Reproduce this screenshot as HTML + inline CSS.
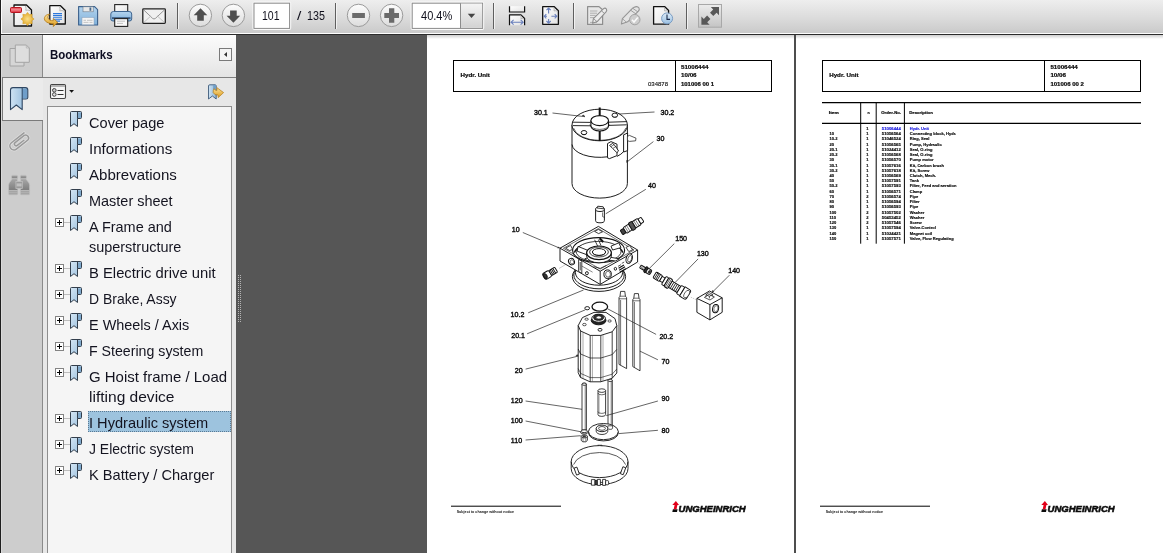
<!DOCTYPE html>
<html><head><meta charset="utf-8">
<style>
*{box-sizing:border-box;margin:0;padding:0}
html,body{width:1163px;height:553px;overflow:hidden;background:#565656;font-family:"Liberation Sans",sans-serif;}
#root{position:absolute;left:0;top:0;width:1163px;height:553px;overflow:hidden;background:#565656}
.abs{position:absolute}
#toolbar{left:0;top:0;width:1163px;height:34px;background:linear-gradient(#eeeeee,#dcdcdc 52%,#cacaca 97%,#fdfdfd 97%);border-left:2px solid #fbfbfb}
#tbline{left:0;top:34px;width:1163px;height:1px;background:#2c2c2c}
#leftedge{left:0;top:0;width:1px;height:553px;background:#1e1e1e}
#tabs{left:1px;top:35px;width:41px;height:518px;background:#cdcdcd;border-left:1px solid #dadada;border-top:1px solid #d8d8d8}
#panel{left:42px;top:35px;width:194px;height:518px;background:#e7e7e7}
#phead{left:42px;top:35px;width:194px;height:42px;background:linear-gradient(#fcfcfc,#e4e4e4)}
#list{left:47px;top:106px;width:185px;height:450px;background:#f5f5f5;border:1px solid #8e8e8e}
.bm{position:absolute;left:89px;font-size:15px;color:#141420;white-space:nowrap;line-height:20px;transform-origin:0 0}
.bmi{position:absolute}
.plus{position:absolute;left:55px;width:9px;height:9px;border:1px solid #848484;background:#fff}
.plus:before{content:"";position:absolute;left:1px;top:3px;width:5px;height:1px;background:#000}
.plus:after{content:"";position:absolute;left:3px;top:1px;width:1px;height:5px;background:#000}
.sep{position:absolute;top:3px;width:1px;height:25px;background:#6e6e6e}
.tbt{font-size:12px;line-height:15px;color:#10101c;white-space:nowrap;transform-origin:0 0}
#bmtitle{font-size:13px;font-weight:700;line-height:16px;color:#0e0e22;white-space:nowrap;transform-origin:0 0;transform:scaleX(.885)}
.page{position:absolute;background:#fff}
</style></head><body><div id="root">
<svg width="0" height="0" style="position:absolute"><defs>
<linearGradient id="bg1" x1="0" y1="0" x2="1" y2="1"><stop offset="0" stop-color="#d4e6f4"/><stop offset="1" stop-color="#9abfde"/></linearGradient>
<g id="bmk"><path d="M0.5 2.5 Q0.5 1.5 1.5 1.5 H10.5 Q11.5 1.5 11.5 2.5 V7.5 Q11.5 8.5 10.5 8.5 H7.5 V16.5 L4 13.7 L0.5 16.5 Z" fill="url(#bg1)" stroke="#323e4c" stroke-width="1" stroke-linejoin="round"/><path d="M8 2.5 H11 V8 H8 Z" fill="#7fa9cc"/><path d="M7.5 2 V8.5" stroke="#323e4c" stroke-width="1" fill="none"/></g>
</defs></svg>
<div id="toolbar" class="abs"></div>
<div id="tbline" class="abs"></div>
<svg class="abs" style="left:0;top:0" width="1163" height="34" viewBox="0 0 1163 34">
<defs>
<linearGradient id="gbtn" x1="0" y1="0" x2="0" y2="1"><stop offset="0" stop-color="#fdfdfd"/><stop offset="1" stop-color="#dcdcdc"/></linearGradient>
<linearGradient id="gpage" x1="0" y1="0" x2="1" y2="1"><stop offset="0" stop-color="#ffffff"/><stop offset="1" stop-color="#e2e2e2"/></linearGradient>
<linearGradient id="gred" x1="0" y1="0" x2="0" y2="1"><stop offset="0" stop-color="#e8404c"/><stop offset=".45" stop-color="#f28890"/><stop offset="1" stop-color="#dc2433"/></linearGradient>
<radialGradient id="gsun"><stop offset="0" stop-color="#fbe08a"/><stop offset="1" stop-color="#e2a92a"/></radialGradient>
<linearGradient id="gyel" x1="0" y1="0" x2="0" y2="1"><stop offset="0" stop-color="#fbe39a"/><stop offset="1" stop-color="#dc9a1c"/></linearGradient>
<linearGradient id="gblue" x1="0" y1="0" x2="0" y2="1"><stop offset="0" stop-color="#b4d4ee"/><stop offset="1" stop-color="#7fb0da"/></linearGradient>
<linearGradient id="gdd" x1="0" y1="0" x2="0" y2="1"><stop offset="0" stop-color="#f4f4f4"/><stop offset="1" stop-color="#d2d2d2"/></linearGradient>
<linearGradient id="gfs" x1="0" y1="0" x2="0" y2="1"><stop offset="0" stop-color="#ececec"/><stop offset="1" stop-color="#c4c4c4"/></linearGradient>
<linearGradient id="gclk" x1="0" y1="0" x2="0" y2="1"><stop offset="0" stop-color="#dcebf7"/><stop offset="1" stop-color="#9bc0e2"/></linearGradient>
</defs>
<!-- create pdf -->
<g>
<path d="M14 5 H26.5 L31.5 10 V26 H14 Z" fill="url(#gpage)" stroke="#111" stroke-width="1.3" stroke-linejoin="round"/>
<path d="M25.5 6 Q26.5 8.5 25.8 10.3 Q28 9.6 30.5 10.8" fill="none" stroke="#b8b8b8" stroke-width="1"/>
<rect x="10.5" y="7.5" width="11" height="5" rx="1" fill="url(#gred)" stroke="#b8141f" stroke-width="1"/>
<path id="sun" d="M27.50 12.40 L29.30 14.66 L32.17 14.33 L31.84 17.20 L34.10 19.00 L31.84 20.80 L32.17 23.67 L29.30 23.34 L27.50 25.60 L25.70 23.34 L22.83 23.67 L23.16 20.80 L20.90 19.00 L23.16 17.20 L22.83 14.33 L25.70 14.66 Z" fill="url(#gsun)" stroke="#d9a128" stroke-width="0.6"/>
</g>
<!-- convert -->
<g>
<path d="M49.8 5.7 H60.5 L65.3 10.5 V24 H49.8 Z" fill="url(#gpage)" stroke="#111" stroke-width="1.3" stroke-linejoin="round"/>
<path d="M59.5 6.5 Q60.5 9 59.8 10.9 Q62 10.2 64.5 11.3" fill="none" stroke="#b8b8b8" stroke-width="1"/>
<path d="M53 13.5 H62 M53 15.4 H62 M53 17.3 H62 M53 19.2 H62 M56 21.1 H60" stroke="#2d78dc" stroke-width="1.1" fill="none"/>
<path d="M49.5 14.2 C44 14.5 42.5 20 47 22.3 C49.5 23.7 52 23.8 53.5 23.7 L53.3 26.6 L57.6 22.2 L53.2 18.5 L53.3 20.7 C51 20.8 48.6 20 48 18 C47.6 16.4 48.4 15.2 49.5 14.2 Z" fill="url(#gyel)" stroke="#b57a14" stroke-width="0.8" stroke-linejoin="round"/>
</g>
<!-- save -->
<g>
<path d="M78.6 6.6 H94.6 L97.6 9.6 V25 H78.6 Z" fill="url(#gblue)" stroke="#3c618c" stroke-width="1.1" stroke-linejoin="round"/>
<rect x="83" y="6.8" width="10.2" height="5" fill="#e8e8e8" stroke="#6a7a8a" stroke-width="0.6"/>
<rect x="89.5" y="7.5" width="1.8" height="3.3" fill="#4a6a8a"/>
<rect x="82" y="17.5" width="12" height="7.3" fill="#f4f4f4" stroke="#8aa0b8" stroke-width="0.5"/>
<path d="M83.5 20.3 H86 M87 20.3 H92.5 M83.5 22.4 H88.5 M89.5 22.4 H92.5" stroke="#c0c0c0" stroke-width="0.9"/>
</g>
<!-- print -->
<g>
<rect x="114.7" y="4.6" width="13" height="9.5" fill="url(#gpage)" stroke="#222" stroke-width="1.1"/>
<path d="M110.8 14 Q110.8 11.5 113.5 11.5 H129 Q131.7 11.5 131.7 14 V19 Q131.7 21 129.5 21 H113 Q110.8 21 110.8 19 Z" fill="url(#gblue)" stroke="#3f6691" stroke-width="1"/>
<path d="M112 17.2 H130.5 V19 H112 Z" fill="#3a5a80"/>
<rect x="114.7" y="18.6" width="13" height="7.8" fill="#f8f8f8" stroke="#222" stroke-width="1.1"/>
<path d="M117 21.2 H125 M117 23.4 H123" stroke="#bbb" stroke-width="0.9"/>
</g>
<!-- mail -->
<g>
<rect x="142.8" y="8.8" width="22.5" height="14.6" rx="0.8" fill="#f0f0f0" stroke="#222" stroke-width="1.3"/>
<path d="M144 10.2 L152.6 18.4 Q154 19.6 155.4 18.4 L164.2 10.2" fill="none" stroke="#8a8a8a" stroke-width="0.9"/>
<path d="M144 22.3 L151 15.8 M164.2 22.3 L157.2 15.8" stroke="#b5b5b5" stroke-width="0.8"/>
</g>
<!-- separators -->
<g stroke="#5f5f5f" stroke-width="1">
<path d="M177.5 3 V29 M335.5 3 V29 M493.5 3 V29 M573.5 3 V29 M686.5 3 V29"/>
</g>
<g stroke="#f8f8f8" stroke-width="1" opacity=".8">
<path d="M178.5 3 V29 M336.5 3 V29 M494.5 3 V29 M574.5 3 V29 M687.5 3 V29"/>
</g>
<!-- nav circles -->
<g fill="url(#gbtn)" stroke="#9a9a9a" stroke-width="1">
<circle cx="200.4" cy="15.4" r="11.2"/><circle cx="233.4" cy="15.4" r="11.2"/><circle cx="358.5" cy="15.4" r="11.2"/><circle cx="391.6" cy="15.4" r="11.2"/>
</g>
<g fill="#4e4e4e">
<path d="M200.5 8.2 L207.3 15.2 H203.8 V20.7 H197.2 V15.2 H193.7 Z"/>
<path d="M233.4 22.8 L240.2 15.8 H236.7 V10.6 H230.1 V15.8 H226.6 Z"/>
</g>
<g fill="#6a6a6a">
<rect x="352.2" y="13" width="12.7" height="5"/>
<path d="M384.3 13 H389 V8.3 H394.3 V13 H399 V18 H394.3 V22.7 H389 V18 H384.3 Z"/>
</g>
<!-- page box -->
<rect x="253" y="2.2" width="37.6" height="27.2" rx="1.5" fill="none" stroke="#fafafa" stroke-width="1.2"/>
<rect x="254" y="3.2" width="35.6" height="25.2" fill="#fff" stroke="#8c8c8c" stroke-width="1"/>
<!-- zoom box -->
<rect x="411.2" y="2.2" width="72.4" height="27.2" rx="1.5" fill="none" stroke="#fafafa" stroke-width="1.2"/>
<rect x="412.2" y="3.2" width="70.4" height="25.2" fill="#fff" stroke="#8c8c8c" stroke-width="1"/>
<rect x="460.5" y="3.7" width="21.6" height="24.2" fill="url(#gdd)"/>
<path d="M460.5 3.2 V28.4" stroke="#8c8c8c" stroke-width="1"/>
<path d="M467.8 13.8 H475.2 L471.5 18 Z" fill="#444"/>
<!-- fit width -->
<g>
<path d="M509.5 6.2 V12 H524.6 V6.2" fill="url(#gpage)" stroke="#111" stroke-width="1.2"/>
<path d="M509.5 25.2 V14.9 H521 L524.6 18.5 V25.2" fill="url(#gpage)" stroke="#111" stroke-width="1.2" stroke-linejoin="round"/>
<path d="M520.6 15.3 Q521.4 17.3 520.9 18.6 Q522.6 18.2 524.2 19" fill="none" stroke="#aaa" stroke-width="0.8"/>
<path d="M511 22.2 H523.2 M513.6 19.8 L511 22.2 L513.6 24.6 M520.6 19.8 L523.2 22.2 L520.6 24.6" fill="none" stroke="#6a80bc" stroke-width="1.1"/>
</g>
<!-- fit page -->
<g>
<path d="M542.7 6.7 H554.3 L558.4 10.8 V24.3 H542.7 Z" fill="url(#gpage)" stroke="#111" stroke-width="1.3" stroke-linejoin="round"/>
<path d="M553.7 7.2 Q554.6 9.4 554 10.9 Q555.9 10.4 557.8 11.3" fill="none" stroke="#aaa" stroke-width="0.8"/>
<path d="M548.6 8 V13.6 M548.6 19 V23.2 M544.2 16.3 H547 M551.4 16.3 H556.8 M546.5 10.2 L548.6 8 L550.7 10.2 M546.5 21 L548.6 23.2 L550.7 21 M546.3 14.2 L544.2 16.3 L546.3 18.4 M554.7 14.2 L556.8 16.3 L554.7 18.4" fill="none" stroke="#6a80bc" stroke-width="1.1"/>
</g>
<!-- edit (disabled) -->
<g>
<path d="M587.6 6.6 H599 L602.6 9.8 V24.4 H587.6 Z" fill="#e7e7e7" stroke="#8e8e8e" stroke-width="1.2" stroke-linejoin="round"/>
<path d="M590 11 H597.4 M590 13.2 H597 M590 15.4 H595.6 M590 17.6 H594 M590 22.4 H597" stroke="#a8a8a8" stroke-width="0.9"/>
<path d="M603.6 8.6 Q605.2 7.6 606.4 9 Q607.2 10.4 606.2 11.6 L597.2 21.6 L592.6 23.2 L593.4 18.6 Z" fill="#ececec" stroke="#8e8e8e" stroke-width="1.1" stroke-linejoin="round"/>
<path d="M601.4 10.8 L604.4 13.4 M593.6 18.8 L597 21.6" stroke="#8e8e8e" stroke-width="0.9" fill="none"/>
</g>
<!-- sign (disabled) -->
<g>
<path d="M634.2 7.2 Q637.4 5.6 639 8 Q639.8 9.8 638.4 11.2 L627.6 21.8 L621.4 24 L622.4 18.6 L632.4 8.4 Z" fill="#e4e4e4" stroke="#959595" stroke-width="1.1" stroke-linejoin="round"/>
<path d="M630.6 10.2 L636 14 M632.6 8.2 L638 12" stroke="#959595" stroke-width="0.9" fill="none"/>
<path d="M622.8 19 L626.6 22.4" stroke="#959595" stroke-width="0.8" fill="none"/>
<circle cx="634.8" cy="19.6" r="5.2" fill="#cdcdcd" stroke="#a2a2a2" stroke-width="1"/>
<path d="M632 19.8 L634 22 L637.8 17.4" fill="none" stroke="#fafafa" stroke-width="1.5"/>
</g>
<!-- page clock -->
<g>
<path d="M653.6 6.7 H664.8 L668.6 10.5 V24.2 H653.6 Z" fill="url(#gpage)" stroke="#111" stroke-width="1.3" stroke-linejoin="round"/>
<path d="M664.2 7.2 Q665.1 9.4 664.5 10.9 Q666.4 10.4 668 11.3" fill="none" stroke="#aaa" stroke-width="0.8"/>
<circle cx="667.1" cy="18.4" r="5.5" fill="url(#gclk)" stroke="#7a9cc2" stroke-width="1"/>
<path d="M667 14.6 V19.4 H670" fill="none" stroke="#1c2c4c" stroke-width="1.1"/>
</g>
<!-- fullscreen -->
<rect x="698.5" y="4.5" width="23" height="22.7" fill="url(#gfs)" stroke="#a8a8a8" stroke-width="1"/>
<g fill="#585858">
<path d="M710.8 7 H719 V15.2 L716.6 12.8 L713.3 16.1 L710 12.8 L713.2 9.5 Z"/>
<path d="M709.6 24.7 H701.4 V16.5 L703.8 18.9 L707.1 15.6 L710.4 18.9 L707.2 22.2 Z"/>
</g>
</svg>
<div class="abs tbt" style="left:262.2px;top:9px;transform:scaleX(.875)">101</div>
<div class="abs tbt" style="left:297px;top:9px;transform:scaleX(1.3)">/</div>
<div class="abs tbt" style="left:307.2px;top:9px;transform:scaleX(.895)">135</div>
<div class="abs tbt" style="left:421px;top:9px;transform:scaleX(.92)">40.4%</div>
<div id="tabs" class="abs"></div>
<div id="panel" class="abs"></div>
<div id="phead" class="abs"></div>
<div class="abs" style="left:42px;top:77px;width:194px;height:1px;background:#7f7f7f"></div>
<div class="abs" style="left:42px;top:35px;width:1px;height:42px;background:#8a8a8a"></div>
<div class="abs" style="left:42px;top:120px;width:1px;height:433px;background:#8a8a8a"></div>
<!-- active tab -->
<div class="abs" style="left:2px;top:77px;width:41px;height:44px;background:#ebebeb;border:1px solid #7a7a7a;border-right:none"></div>
<div id="list" class="abs"></div>
<div id="leftedge" class="abs"></div>
<div class="abs" style="left:238px;top:275px;width:4px;height:48px;background-image:linear-gradient(#b4b4b4 50%,transparent 50%),linear-gradient(90deg,transparent 0,transparent 100%);background-size:2px 2px;-webkit-mask-image:linear-gradient(90deg,#000 25%,transparent 25%,transparent 50%,#000 50%,#000 75%,transparent 75%);mask-image:linear-gradient(90deg,#000 25%,transparent 25%,transparent 50%,#000 50%,#000 75%,transparent 75%)"></div>
<div class="abs" id="bmtitle" style="left:49.5px;top:47px">Bookmarks</div>
<svg class="abs" style="left:0;top:34px" width="240" height="519" viewBox="0 34 240 519">
<defs>
<linearGradient id="gbm2" x1="0" y1="0" x2="1" y2="0"><stop offset="0" stop-color="#cfe3f3"/><stop offset="1" stop-color="#8db6d9"/></linearGradient>
<linearGradient id="gbin" x1="0" y1="0" x2="0" y2="1"><stop offset="0" stop-color="#a8a8a8"/><stop offset="1" stop-color="#7c7c7c"/></linearGradient>
</defs>
<!-- pages icon -->
<path d="M10 48.5 H24 V66 H10 Z" fill="#d6d6d6" stroke="#a4a4a4" stroke-width="1"/>
<path d="M15.3 45 H26.3 L29.3 48 V62.3 H15.3 Z" fill="#dedede" stroke="#a4a4a4" stroke-width="1" stroke-linejoin="round"/>
<path d="M26.3 45 V48 H29.3" fill="none" stroke="#b4b4b4" stroke-width="0.8"/>
<!-- big bookmark -->
<path d="M10.5 90 Q10.5 87.6 13 87.6 H25.5 Q27.8 87.6 27.8 90 V97.5 Q27.8 99 26 99 H22.2 V109.6 L16.3 105 L10.5 109.6 Z" fill="url(#gbm2)" stroke="#2f4763" stroke-width="1.1" stroke-linejoin="round"/>
<path d="M22.2 89 H27 V98.3 H22.2 Z" fill="#6f9ec9"/>
<path d="M22.2 88 V99" stroke="#2f4763" stroke-width="1"/>
<!-- paperclip -->
<g transform="translate(19.4 141.6) rotate(-38) translate(-11 0)" fill="none" stroke-linecap="round">
<path d="M20 -4 H4 A4 4 0 0 0 4 4 H18.6 A3 3 0 0 0 18.6 -1.9 H7 A1.8 1.8 0 0 0 7 1.7 H15.4" stroke="#dedede" stroke-width="3"/>
<path d="M20 -4 H4 A4 4 0 0 0 4 4 H18.6 A3 3 0 0 0 18.6 -1.9 H7 A1.8 1.8 0 0 0 7 1.7 H15.4" stroke="#9a9a9a" stroke-width="1.5"/>
</g>
<!-- binoculars -->
<g fill="url(#gbin)" stroke="#c2c2c2" stroke-width="0.7">
<rect x="11.6" y="175.3" width="6" height="3.4" rx="1"/><rect x="20.4" y="175.3" width="6" height="3.4" rx="1"/>
<path d="M12.2 178.8 H17.2 L17.8 182 V190.6 H8.6 V185.4 Q8.6 183.6 9.6 182.4 Z"/>
<path d="M20.8 178.8 H25.8 L28.6 182.4 Q29.6 183.6 29.6 185.4 V190.6 H20.4 V182 Z"/>
<rect x="15.9" y="181.4" width="6.4" height="7.2" fill="#9a9a9a"/>
<rect x="16.6" y="183.4" width="5" height="3" fill="#c0c0c0" stroke="none"/>
<rect x="8.6" y="190.8" width="9.2" height="4" rx="0.8" fill="#9e9e9e"/><rect x="20.4" y="190.8" width="9.2" height="4" rx="0.8" fill="#9e9e9e"/>
<path d="M9 192.8 H17.4 M20.8 192.8 H29.2" stroke="#c8c8c8" stroke-width="0.6"/>
</g>
<!-- collapse -->
<rect x="219.5" y="48.5" width="12" height="12" fill="#f4f4f4" stroke="#7a7a7a" stroke-width="1"/>
<path d="M227 52 V57 L224 54.5 Z" fill="#333"/>
<!-- options -->
<rect x="50.5" y="84.5" width="15" height="14" rx="1.2" fill="#f6f6f6" stroke="#444" stroke-width="1.1"/>
<rect x="51" y="85" width="14" height="2" fill="#b4b4b4"/>
<circle cx="54.3" cy="90.3" r="1.8" fill="#c8c8c8" stroke="#444" stroke-width="1"/><circle cx="54.3" cy="94.5" r="1.8" fill="#dcdcdc" stroke="#444" stroke-width="1"/>
<path d="M57.5 90.5 H63.5 M57.5 94.5 H63.5" stroke="#333" stroke-width="1"/>
<path d="M69.2 90 H74 L71.6 92.8 Z" fill="#111"/>
<!-- new bookmark -->
<path d="M208.5 86 Q208.5 84.8 209.8 84.8 H215 Q216.2 84.8 216.2 86 V99 L212.4 96 L208.5 99 Z" fill="url(#gbm2)" stroke="#3d5a7a" stroke-width="0.9" stroke-linejoin="round"/>
<path d="M213.2 85 H215.8 V91 H213.2 Z" fill="#6f9ec9"/>
<path d="M216.8 87.6 L223.6 92.6 L218.2 97.6 L218 95 Q214.6 95.4 213.2 92.6 Q212.8 90.4 214.2 88.6 Q214.6 90.6 217 90.4 Z" fill="url(#gyel)" stroke="#b57a14" stroke-width="0.7" stroke-linejoin="round"/>
<!-- splitter grip -->
<g fill="#9a9a9a">
<rect x="237" y="275" width="1" height="48" opacity=".0"/>
</g>
</svg>
<div class="bm" style="top:113px;transform:scaleX(0.9721)">Cover page</div>
<svg class="bmi" style="left:70px;top:110px" width="13" height="18" viewBox="0 0 13 18"><use href="#bmk"/></svg><div class="bm" style="top:139px;transform:scaleX(1.0091)">Informations</div>
<svg class="bmi" style="left:70px;top:136px" width="13" height="18" viewBox="0 0 13 18"><use href="#bmk"/></svg><div class="bm" style="top:165px;transform:scaleX(1.0039)">Abbrevations</div>
<svg class="bmi" style="left:70px;top:162px" width="13" height="18" viewBox="0 0 13 18"><use href="#bmk"/></svg><div class="bm" style="top:191px;transform:scaleX(0.9640)">Master sheet</div>
<svg class="bmi" style="left:70px;top:188px" width="13" height="18" viewBox="0 0 13 18"><use href="#bmk"/></svg><div class="bm" style="top:217px;transform:scaleX(0.9652)">A Frame and</div>
<svg class="bmi" style="left:70px;top:214px" width="13" height="18" viewBox="0 0 13 18"><use href="#bmk"/></svg><div class="plus" style="top:218px"></div><div class="abs" style="left:64px;top:222px;width:6px;height:1px;background:#bdbdbd"></div><div class="bm" style="top:237px;transform:scaleX(0.9627)">superstructure</div>
<div class="bm" style="top:263px;transform:scaleX(0.9861)">B Electric drive unit</div>
<svg class="bmi" style="left:70px;top:260px" width="13" height="18" viewBox="0 0 13 18"><use href="#bmk"/></svg><div class="plus" style="top:264px"></div><div class="abs" style="left:64px;top:268px;width:6px;height:1px;background:#bdbdbd"></div><div class="bm" style="top:289px;transform:scaleX(0.9299)">D Brake, Assy</div>
<svg class="bmi" style="left:70px;top:286px" width="13" height="18" viewBox="0 0 13 18"><use href="#bmk"/></svg><div class="plus" style="top:290px"></div><div class="abs" style="left:64px;top:294px;width:6px;height:1px;background:#bdbdbd"></div><div class="bm" style="top:315px;transform:scaleX(0.9625)">E Wheels / Axis</div>
<svg class="bmi" style="left:70px;top:312px" width="13" height="18" viewBox="0 0 13 18"><use href="#bmk"/></svg><div class="plus" style="top:316px"></div><div class="abs" style="left:64px;top:320px;width:6px;height:1px;background:#bdbdbd"></div><div class="bm" style="top:341px;transform:scaleX(0.9448)">F Steering system</div>
<svg class="bmi" style="left:70px;top:338px" width="13" height="18" viewBox="0 0 13 18"><use href="#bmk"/></svg><div class="plus" style="top:342px"></div><div class="abs" style="left:64px;top:346px;width:6px;height:1px;background:#bdbdbd"></div><div class="bm" style="top:367px;transform:scaleX(0.9978)">G Hoist frame / Load</div>
<svg class="bmi" style="left:70px;top:364px" width="13" height="18" viewBox="0 0 13 18"><use href="#bmk"/></svg><div class="plus" style="top:368px"></div><div class="abs" style="left:64px;top:372px;width:6px;height:1px;background:#bdbdbd"></div><div class="bm" style="top:387px;transform:scaleX(1.0358)">lifting device</div>
<div class="abs" style="left:88px;top:411px;width:143px;height:21px;background:#9dc3de;outline:1px dotted #5a7a94;outline-offset:-1px"></div><div class="bm" style="top:413px;transform:scaleX(0.9728)">I Hydraulic system</div>
<svg class="bmi" style="left:70px;top:410px" width="13" height="18" viewBox="0 0 13 18"><use href="#bmk"/></svg><div class="plus" style="top:414px"></div><div class="abs" style="left:64px;top:418px;width:6px;height:1px;background:#bdbdbd"></div><div class="bm" style="top:439px;transform:scaleX(0.9314)">J Electric system</div>
<svg class="bmi" style="left:70px;top:436px" width="13" height="18" viewBox="0 0 13 18"><use href="#bmk"/></svg><div class="plus" style="top:440px"></div><div class="abs" style="left:64px;top:444px;width:6px;height:1px;background:#bdbdbd"></div><div class="bm" style="top:465px;transform:scaleX(0.9759)">K Battery / Charger</div>
<svg class="bmi" style="left:70px;top:462px" width="13" height="18" viewBox="0 0 13 18"><use href="#bmk"/></svg><div class="plus" style="top:466px"></div><div class="abs" style="left:64px;top:470px;width:6px;height:1px;background:#bdbdbd"></div><div class="page" style="left:427px;top:35px;width:367px;height:518px"></div>
<div class="abs" style="left:794px;top:35px;width:2px;height:518px;background:#4e4e4e"></div>
<div class="abs" style="left:427px;top:35px;width:367px;height:4px;background:linear-gradient(#cfcfcf,#fff)"></div>
<svg class="abs" style="left:427px;top:34px;will-change:transform" width="367" height="519" viewBox="427 34 367 519" font-family="Liberation Sans, sans-serif">
<!-- header box -->
<g fill="none" stroke="#000" stroke-width="1">
<rect x="453.5" y="60.5" width="318" height="31"/>
<path d="M675.5 60.5 V91.5"/>
</g>
<g font-size="5.4" font-weight="700" fill="#0c0c0c" stroke="#0c0c0c" stroke-width="0.2">
<text x="460.6" y="76.9" textLength="29.3" lengthAdjust="spacingAndGlyphs">Hydr. Unit</text>
<text x="681" y="68.8" textLength="27.4" lengthAdjust="spacingAndGlyphs">51006444</text>
<text x="681" y="77.2" textLength="15.6" lengthAdjust="spacingAndGlyphs">10/06</text>
<text x="681" y="86.1" textLength="33" lengthAdjust="spacingAndGlyphs">101006 00 1</text>
</g>
<text x="648" y="86.1" font-size="5.4" fill="#111" stroke="#111" stroke-width="0.12" textLength="20" lengthAdjust="spacingAndGlyphs">034878</text>
<!-- labels -->
<g font-size="7.1" fill="#111" stroke="#111" stroke-width="0.4">
<text x="534" y="115">30.1</text><text x="660.5" y="115">30.2</text><text x="656.6" y="141">30</text><text x="648" y="188.3">40</text>
<text x="511.8" y="231.5">10</text><text x="675.2" y="240.8">150</text><text x="696.9" y="255.9">130</text><text x="728.2" y="272.9">140</text>
<text x="510.6" y="317">10.2</text><text x="511.2" y="338">20.1</text><text x="659.4" y="338.7">20.2</text><text x="661.6" y="363.6">70</text>
<text x="514.7" y="373.4">20</text><text x="510.8" y="403.3">120</text><text x="661.6" y="401">90</text><text x="510.8" y="423.2">100</text>
<text x="510.8" y="442.7">110</text><text x="661.6" y="433">80</text>
</g>
<!-- MOTOR 30 -->
<g stroke="#111" stroke-width="0.95" fill="#fff" stroke-linejoin="round">
<path d="M572 125 V183.5 A27.7 14.6 0 0 0 627.4 183.5 V125 Z"/>
<path d="M572 144.5 A27.7 13.4 0 0 0 607.5 156.8" fill="none"/>
<ellipse cx="599.7" cy="125" rx="27.7" ry="15.8"/>
<path d="M573.5 128 A26.5 14.6 0 0 0 625.9 128" fill="none" stroke-width="0.6"/>
<!-- cross -->
<path d="M572.4 122.2 L590.5 122.4 M573 125.6 L591 125.8 M609 122.2 L627 121.6 M608.6 125.4 L626.8 124.8" fill="none" stroke-width="0.9"/>
<path d="M599.7 107.4 V115.6 M599.7 130.8 V141" fill="none" stroke-width="2" stroke="#111"/>
<!-- hub -->
<path d="M590.9 120.6 V126 A8.8 5 0 0 0 608.5 126 V120.6" stroke-width="1.1"/>
<path d="M589.8 124.6 A10 5.6 0 0 0 609.6 124.6" fill="none" stroke-width="0.6"/>
<ellipse cx="599.7" cy="120.6" rx="8.8" ry="5" stroke-width="1.1"/>
<!-- holes -->
<ellipse cx="614.8" cy="115.2" rx="2.8" ry="2.1"/><path d="M612.2 116 A2.8 2.1 0 0 0 617.4 116" fill="none" stroke-width="0.5"/>
<ellipse cx="584" cy="132.6" rx="2.8" ry="2.1"/><path d="M581.4 133.4 A2.8 2.1 0 0 0 586.6 133.4" fill="none" stroke-width="0.5"/>
<path d="M582 115.8 l3 0.6 l-1.6 -1.4 Z" fill="#222" stroke-width="0.3"/>
<!-- front brush holder -->
<path d="M607.5 143.6 L611 141.6 L617 144.2 V155.6 L609.5 158.6 L607.5 157.8 Z"/>
<path d="M609.6 145.4 L612.6 143.4 L615 145.6 L618.6 151 L616.8 152.6 L612.8 148.6 Z" stroke-width="0.9"/><path d="M611 146.6 L614 144.6 M613 148.4 L615.6 146.6" fill="none" stroke-width="0.6"/>
<!-- right brush holder -->
<path d="M623.6 134.8 L627.6 133 V150.6 L623.6 152 Z"/>
<path d="M627.4 136.4 L629.4 135.4 L636 138.2 L635.6 140.8 L629.6 141.4 L627.4 140.6 Z" stroke-width="0.7"/>
<path d="M626.6 162.2 l0.2 -2.2 l1.2 1.4 Z" fill="#222" stroke-width="0.3"/>
</g>

<!-- cap band right part -->
<path d="M617 156.4 A27.7 13.4 0 0 0 623.6 151.6" fill="none" stroke="#111" stroke-width="0.95"/>
<!-- PART 40 -->
<g stroke="#111" stroke-width="0.95" fill="#fff" stroke-linejoin="round">
<path d="M595.6 209.2 V220.6 A4.4 2.2 0 0 0 604.4 220.6 V209.2 Z"/>
<ellipse cx="600" cy="209.2" rx="4.4" ry="2.3"/>
<path d="M597 208 L597.8 206.2 L603.2 206.8 L603.8 208.8 Z" stroke-width="0.8"/>
<path d="M602.6 212.4 V216.6 L604.4 217.4" fill="none" stroke-width="0.6"/>
</g>
<!-- fitting upper right -->
<g stroke="#111" stroke-width="0.95" fill="#fff" stroke-linejoin="round">
<g transform="translate(621.5 232.6) rotate(-32)">
<rect x="0" y="-2.6" width="4" height="5.2" rx="1" fill="#444"/>
<rect x="4" y="-3.4" width="6.5" height="6.8" rx="1"/>
<path d="M6 -3.4 V3.4 M8 -3.4 V3.4" stroke-width="0.5"/>
<rect x="10.5" y="-4.3" width="4.2" height="8.6" rx="1.2" fill="#555"/>
<rect x="14.7" y="-3.6" width="6.4" height="7.2" rx="1"/>
<rect x="21.1" y="-2.7" width="3.6" height="5.4" rx="0.8"/>
<path d="M16.6 -3.6 V3.6 M18.6 -3.6 V3.6" stroke-width="0.5"/>
</g>
</g>
<!-- left plug -->
<g stroke="#111" stroke-width="0.95" fill="#fff" stroke-linejoin="round">
<g transform="translate(543.8 277) rotate(-31)">
<rect x="0" y="-3.4" width="7.6" height="6.8" rx="1.6"/>
<ellipse cx="1.8" cy="0" rx="1.6" ry="2.6" fill="#333"/>
<rect x="7.6" y="-2.9" width="6.8" height="5.8" rx="1"/>
<path d="M9 -2.9 V2.9 M10.6 -2.9 V2.9 M12.2 -2.9 V2.9" stroke-width="0.9"/>
</g>
</g>
<path d="M559 268.5 L565.5 264.6" stroke="#999" stroke-width="0.5" fill="none"/>
<!-- ring 10.2 under block -->
<g stroke="#111" stroke-width="0.95" fill="none">
<ellipse cx="599" cy="276.6" rx="26.6" ry="14.8"/>
<ellipse cx="599" cy="275" rx="25.2" ry="13.8"/>
<ellipse cx="599" cy="272.6" rx="23.6" ry="12.6" fill="#fff"/>
</g>
<!-- BLOCK 10 -->
<g stroke="#111" stroke-width="0.95" fill="#fff" stroke-linejoin="round">
<path d="M560 248.2 L598.4 226.4 L637.6 250 V262 L600.2 284.4 L560 261 Z"/>
<path d="M560 248.2 L600.2 271.2 L637.6 250 M600.2 271.2 V284.4" fill="none"/>
<path d="M563.4 248.3 L598.4 228.6 L634 250 L600.2 269 Z" fill="none" stroke-width="0.6"/>
<!-- corner pockets -->
<path d="M565.6 248.2 L570.6 245.4 L572.6 249.4 L569.6 250.6 Z" stroke-width="0.8"/>
<path d="M594.6 231.4 L598.4 229.4 L602.6 231.8 L598.6 233.6 Z" stroke-width="0.8"/>
<path d="M626 247.4 L629.6 245.6 L632.6 249.8 L628.8 251.6 Z" stroke-width="0.8"/>
<path d="M593.6 266.6 L600.2 268.4 L606.4 265.4" fill="none" stroke-width="0.7"/>
<ellipse cx="598.6" cy="250.2" rx="26" ry="12.6" stroke-width="1.1"/>
<path d="M574.4 252.6 A24.4 11.4 0 0 1 622.8 252.6" fill="none" stroke-width="1.5"/>
<ellipse cx="598.6" cy="251.6" rx="22.4" ry="10.2" stroke-width="0.8"/>
<!-- ribs / pockets inside cavity -->
<path d="M578 246.4 L588.4 250.6 L586 254.4 L577.2 251.2 Z" stroke-width="0.9"/>
<path d="M611 246.2 L618.8 242.8 L621 247.6 L612.6 250 Z" stroke-width="0.9"/>
<path d="M608.6 257 L619.4 258.8 L615.4 261 L606.8 259.8 Z" stroke-width="0.9"/>
<path d="M584.8 258.8 L591.4 256.4 L593 259.4 L588 261 Z" stroke-width="0.9"/>
<path d="M594.6 239.8 L597.6 246 M598.4 239.6 L601 245.6" fill="none" stroke-width="0.8"/>
<path d="M599.6 238.2 l3.6 3.8" stroke-width="2" stroke="#111" fill="none"/>
<path d="M586.6 253.4 V256 A12.4 6.8 0 0 0 611.4 256 V253.4" stroke-width="0.9"/>
<ellipse cx="599" cy="252.8" rx="12.4" ry="6.8" stroke-width="1.2"/>
<ellipse cx="599" cy="252" rx="9.4" ry="5" stroke-width="0.8"/>
<ellipse cx="599" cy="252" rx="6.6" ry="3.4" stroke-width="1"/>
<path d="M592.6 253 A6.6 3.4 0 0 0 605.4 253" fill="none" stroke-width="0.6"/>
<!-- left face -->
<ellipse cx="571.5" cy="261.6" rx="2.9" ry="3.3" transform="rotate(-25 571.5 261.6)" stroke-width="1"/>
<ellipse cx="571.9" cy="261.8" rx="1.7" ry="2.1" transform="rotate(-25 571.9 261.8)" stroke-width="0.5"/>
<ellipse cx="586.9" cy="273.2" rx="1.4" ry="1.6"/>
<path d="M578.6 259.4 V271.4 L581.8 273.2 V261.2 Z M580.2 262 V270.4" stroke-width="0.8"/>
<path d="M581.8 266 L592.6 272.2" fill="none" stroke-width="0.5"/>
<!-- right front face -->
<ellipse cx="607.6" cy="274.2" rx="3.7" ry="4.3" stroke-width="1"/><ellipse cx="608" cy="274.2" rx="2.4" ry="3" stroke-width="0.6"/>
<ellipse cx="615.4" cy="268.8" rx="1.2" ry="1.4"/>
<path d="M618.6 268.2 l5.4 -3.2 M619.2 270.2 l5.8 -3.4 M619.8 272.2 l6 -3.6" fill="none" stroke-width="1.1"/>
<path d="M618 266.4 l3 -1.8 M621.8 263.4 l2.4 -1.4" fill="none" stroke-width="0.7"/>
<ellipse cx="629.2" cy="258.6" rx="3" ry="4.9" transform="rotate(18 629.2 258.6)" stroke-width="1"/><ellipse cx="629.7" cy="258.8" rx="1.8" ry="3.4" transform="rotate(18 629.7 258.8)" stroke-width="0.6"/>
<path d="M559.6 248.1 l-2.2 -0.2 l1.4 -1 Z" fill="#222" stroke-width="0.3"/>
</g>
<!-- screw 150 -->
<g stroke="#111" stroke-width="0.95" fill="#fff" stroke-linejoin="round">
<g transform="translate(640.4 266.4) rotate(31)">
<rect x="0" y="-1.6" width="5.4" height="3.2" rx="0.6"/>
<path d="M1.4 -1.6 V1.6 M2.8 -1.6 V1.6 M4.2 -1.6 V1.6" stroke-width="0.5"/>
<rect x="5.4" y="-3" width="2.2" height="6" rx="0.8" fill="#333"/>
<rect x="7.6" y="-2.6" width="4.6" height="5.2" rx="1.4"/>
<ellipse cx="10.6" cy="0" rx="1.2" ry="1.8" fill="#333" stroke-width="0.4"/>
</g>
</g>
<!-- valve 130 -->
<g stroke="#111" stroke-width="0.95" fill="#fff" stroke-linejoin="round">
<g transform="translate(654.6 274.8) rotate(31)">
<rect x="0" y="-3.4" width="7.4" height="6.8" rx="1.2"/>
<path d="M1.8 -3.4 V3.4 M3.4 -3.4 V3.4 M5 -3.4 V3.4" stroke-width="0.8"/>
<rect x="7.4" y="-2.6" width="3.4" height="5.2"/>
<rect x="10.8" y="-4.6" width="3" height="9.2" rx="1"/>
<rect x="13.8" y="-5.2" width="4.6" height="10.4" rx="1.4"/>
<path d="M15.2 -5.2 V5.2 M16.8 -5.2 V5.2" stroke-width="0.6"/>
<rect x="18.4" y="-3.6" width="10" height="7.2"/>
<path d="M20.4 -3.6 V3.6 M22.4 -3.6 V3.6 M24.4 -3.6 V3.6 M26.4 -3.6 V3.6" stroke-width="0.8"/>
<rect x="28.4" y="-4.8" width="4" height="9.6" rx="1"/>
<path d="M32.4 -5.4 H37.6 Q39.6 -5.4 39.6 -3.4 V3.4 Q39.6 5.4 37.6 5.4 H32.4 Z"/>
<ellipse cx="37.4" cy="0" rx="2.2" ry="4.2" stroke-width="0.6"/>
</g>
</g>
<path d="M690.8 297.2 L696 299.6" stroke="#888" stroke-width="0.5" stroke-dasharray="1.2 1" fill="none"/>
<path d="M637.8 262.8 L640.4 265" stroke="#888" stroke-width="0.5" stroke-dasharray="1.2 1" fill="none"/>
<!-- coil 140 -->
<g stroke="#111" stroke-width="0.95" fill="#fff" stroke-linejoin="round">
<path d="M696.9 298.4 L709.5 291 L722.2 297.8 V312.3 L709.9 319.9 L696.9 312.3 Z"/>
<path d="M696.9 298.4 L709.9 304.6 L722.2 297.8 M709.9 304.6 V319.9" fill="none"/>
<ellipse cx="715.6" cy="308.6" rx="3" ry="4.2" transform="rotate(12 715.6 308.6)"/><ellipse cx="715.9" cy="308.7" rx="2" ry="3" transform="rotate(12 715.9 308.7)" stroke-width="0.5"/>
<path d="M704.4 297.4 L709 294.4 L714.4 297 L710 300 Z" stroke-width="0.7"/>
<path d="M706 294.6 L709 292.6 L712.6 294.4 V296.2 M706 294.6 V296.6 M709.4 296.4 V298.4 M706 294.6 L709.4 296.4 L712.6 294.4" fill="none" stroke-width="0.7"/>
<path d="M712.2 292.4 l0.4 -2.2 l1.2 1.2 Z" fill="#222" stroke-width="0.3"/>
</g>

<!-- o-rings -->
<g stroke="#111" stroke-width="0.9" fill="none">
<ellipse cx="599.8" cy="306.7" rx="7.8" ry="4.5" stroke-width="1.3"/>
<ellipse cx="587.2" cy="308.2" rx="2.4" ry="1.6"/>
</g>
<!-- pipes 70 -->
<g stroke="#111" stroke-width="0.8" fill="#fff" stroke-linejoin="round">
<path d="M620.6 291.4 H624.8 L625.4 296.2 L626.6 297.6 V368.6 L619 364.4 V297.6 L620 296.2 Z"/>
<path d="M619 298.8 H626.6 M620 296.2 H625.4 M620.6 300 V365.2" fill="none" stroke-width="0.6"/>
<path d="M634.4 293.6 H638.4 L639 298.2 L640 299.6 V370.8 L632.8 366.6 V299.6 L633.8 298.2 Z"/>
<path d="M632.8 300.8 H640 M633.8 298.2 H639 M634.4 302 V367.4" fill="none" stroke-width="0.6"/>
</g>
<!-- PUMP 20 -->
<g stroke="#111" stroke-width="0.9" fill="#fff" stroke-linejoin="round">
<path d="M578.2 325.6 L582.4 317.6 L594 312.4 H606 L615 318.6 L616.8 325.6 V373 L612 378.4 L600.6 381.8 H590 L580.4 377.4 L578.2 372.6 Z"/>
<path d="M578.2 325.6 L580.6 331 L590.2 335.4 H600.8 L612.2 331.8 L616.8 325.6" fill="none"/>
<path d="M580.6 331 V377.4 M590.2 335.4 V381.8 M600.8 335.4 V381.8 M612.2 331.8 V378.4" fill="none" stroke-width="0.8"/>
<path d="M592.4 335.4 V381.8 M603 334.8 V381.2 M583 332.2 V378.6" fill="none" stroke-width="0.5" stroke="#555"/>
<path d="M578.2 349 L580.6 354 L590.2 358 H600.8 L612.2 354.6 L616.8 349.4" fill="none" stroke-width="0.7"/>
<path d="M578.2 368.6 L580.6 373.4 L590.2 377.6 H600.8 L612.2 374.2 L616.8 369" fill="none" stroke-width="0.6"/>
<!-- top shaft -->
<ellipse cx="598.6" cy="320.4" rx="7.4" ry="4.4" fill="#222"/>
<ellipse cx="598.6" cy="318.2" rx="6.8" ry="4" fill="#fff"/>
<ellipse cx="598.6" cy="317.4" rx="5" ry="2.9" fill="#333"/>
<ellipse cx="598.8" cy="317.4" rx="2.6" ry="1.5" fill="#fff" stroke-width="0.5"/>
<ellipse cx="586.6" cy="319.2" rx="1.7" ry="1.1" stroke-width="0.7"/>
<ellipse cx="609.6" cy="321" rx="1.7" ry="1.1" stroke-width="0.7"/>
<ellipse cx="584.4" cy="324.6" rx="1.8" ry="1.2" stroke-width="0.7"/>
<ellipse cx="600" cy="329.8" rx="2" ry="1.4" stroke-width="0.9"/>
<path d="M578.1 356.1 l-2.3 -0.4 l1.6 -1.2 Z" fill="#222" stroke-width="0.3"/>
</g>
<!-- bolts 120 -->
<g stroke="#111" stroke-width="0.8" fill="#fff" stroke-linejoin="round">
<path d="M582 384.2 V430 H586.4 V384.2 A2.2 1.1 0 0 0 582 384.2 Z"/>
<ellipse cx="584.2" cy="384.2" rx="2.2" ry="1.1"/>
<path d="M585.2 385 V430" fill="none" stroke-width="0.5"/>
<path d="M608 380.4 V427 H612.3 V380.4 Z"/>
<ellipse cx="610.15" cy="380.4" rx="2.15" ry="1.1"/>
<path d="M611.2 381 V427" fill="none" stroke-width="0.5"/>
</g>
<!-- disc 80 -->
<g stroke="#111" stroke-width="0.9" fill="#fff" stroke-linejoin="round">
<ellipse cx="603.4" cy="432.8" rx="14.9" ry="8.1"/>
<ellipse cx="603.4" cy="431.6" rx="14.9" ry="8.1"/>
<path d="M596.2 428.4 V431.2 A5.8 3.3 0 0 0 607.8 431.2 V428.4" stroke-width="0.8"/>
<ellipse cx="602" cy="428.4" rx="5.8" ry="3.3"/>
<ellipse cx="602" cy="428.4" rx="3.4" ry="1.9" stroke-width="0.7"/>
<path d="M607.8 425.8 H612.6 V428.2 A2.4 1.2 0 0 1 607.8 428.2 Z" stroke-width="0.7"/>
</g>
<!-- tube 90 -->
<g stroke="#111" stroke-width="0.8" fill="#fff" stroke-linejoin="round">
<path d="M598 390.6 V414.6 A3.8 1.8 0 0 0 605.6 414.6 V390.6 Z"/>
<ellipse cx="601.8" cy="390.6" rx="3.8" ry="1.8"/>
<path d="M598 393 A3.8 1.8 0 0 0 605.6 393 M598 411.6 A3.8 1.8 0 0 0 605.6 411.6" fill="none" stroke-width="0.6"/>
<path d="M599.2 394 V414" fill="none" stroke-width="0.5" stroke="#777"/>
</g>
<!-- washer 100, nut 110 -->
<g stroke="#111" stroke-width="0.8" fill="#fff" stroke-linejoin="round">
<ellipse cx="584.2" cy="432.4" rx="3.6" ry="1.7" fill="#ddd"/>
<ellipse cx="584.2" cy="431.2" rx="3.2" ry="1.4"/>
<path d="M581.2 436.4 V440.4 L582.8 441.8 H585.8 L587.4 440.4 V436.4 Z"/>
<ellipse cx="584.3" cy="436.4" rx="3.1" ry="1.5"/>
<ellipse cx="584.3" cy="436.4" rx="1.6" ry="0.8" fill="#444" stroke-width="0.4"/>
<path d="M583 438 V441.6 M585.8 438 V441.6" fill="none" stroke-width="0.5"/>
</g>
<!-- clamp 60 -->
<g stroke="#111" stroke-width="0.9" fill="none" stroke-linejoin="round">
<ellipse cx="599.6" cy="461.6" rx="28.4" ry="16"/>
<path d="M571.2 461.6 V468.6 A28.4 16 0 0 0 628 468.6 V461.6"/>
<path d="M573.6 464.6 A26.4 14.6 0 0 1 625.6 464.6" stroke-width="0.7"/>
<rect x="575.2" y="467.4" width="3" height="7.4" fill="#fff" transform="rotate(-20 576.7 471)" stroke-width="0.8"/>
<rect x="621.6" y="467" width="3" height="7.4" fill="#fff" transform="rotate(20 623 470.6)" stroke-width="0.8"/>
<path d="M597.6 445.2 H602 V446.2" stroke-width="0.6"/>
<g fill="#fff" stroke-width="0.8">
<rect x="591.4" y="479.6" width="3.6" height="5.6"/><rect x="595" y="480.4" width="2.4" height="4.4" fill="#444"/>
<rect x="597.4" y="479.4" width="3" height="6"/><rect x="602.6" y="479.4" width="3" height="6"/>
<rect x="605.6" y="480.6" width="3" height="4.2" rx="1"/>
<path d="M600.4 482.4 H602.6" />
</g>
</g>
<!-- leaders -->
<g stroke="#222" stroke-width="0.7" fill="none">
<path d="M552.5 113 L585 116.7"/><path d="M654.5 112 L618.7 114"/><path d="M653.4 141.6 L626.6 162.2"/><path d="M645.8 189.3 L605.7 213.8"/>
<path d="M522.8 232.5 L559.6 248.1"/><path d="M674.3 243.6 L648.9 268.9"/><path d="M698.1 258.9 L675.2 282.4"/><path d="M729.4 275.2 L712.2 292.4"/>
<path d="M528.2 312.8 L583.5 290"/><path d="M527.1 333.8 L585.2 309.9"/><path d="M656.1 334.4 L607.8 308.9"/><path d="M657.9 359.8 L639.9 351.1"/>
<path d="M525.6 369.1 L578.1 356.1"/><path d="M525.6 401 L582 409.3"/><path d="M657.9 401 L606.3 415.6"/><path d="M525.6 421 L581 431.8"/>
<path d="M525.6 440 L580.7 435.7"/><path d="M657.9 430.3 L618.8 433.6"/>
</g>
<!-- footer -->
<path d="M451 506.2 H561" stroke="#000" stroke-width="1" fill="none"/>
<text x="456.7" y="512.6" font-size="2.9" font-weight="700" fill="#111" textLength="57.3" lengthAdjust="spacingAndGlyphs">Subject to change without notice</text>
<g>
<text x="678.6" y="511.8" font-size="9.5" font-weight="700" font-style="italic" fill="#0c0c0c" textLength="67" lengthAdjust="spacingAndGlyphs" stroke="#0c0c0c" stroke-width="0.55">UNGHEINRICH</text>
<path d="M672.9 509.2 H677.6 L677 511.9 H672.3 Z" fill="#0c0c0c"/>
<path d="M675.9 500.9 L679 504.9 H677.4 L676.5 509.3 H673.7 L674.6 504.9 H672.3 Z" fill="#e2001a"/>
</g>
</svg>
<div class="page" style="left:796px;top:35px;width:367px;height:518px"></div>
<div class="abs" style="left:796px;top:35px;width:367px;height:4px;background:linear-gradient(#cfcfcf,#fff)"></div>
<svg class="abs" style="left:796px;top:34px;will-change:transform" width="367" height="519" viewBox="796 34 367 519" font-family="Liberation Sans, sans-serif">
<g fill="none" stroke="#000" stroke-width="1">
<rect x="822.5" y="60.5" width="318" height="31"/>
<path d="M1044.5 60.5 V91.5"/>
<path d="M822 102.6 H1141 M822 123.4 H1141" stroke-width="1.1"/>
<path d="M860.7 102.6 V243.7 M876.2 102.6 V243.7 M904.4 102.6 V243.7" stroke-width="1"/>
</g>
<g font-size="5.4" font-weight="700" fill="#0c0c0c" stroke="#0c0c0c" stroke-width="0.2">
<text x="829.2" y="76.9" textLength="29.3" lengthAdjust="spacingAndGlyphs">Hydr. Unit</text>
<text x="1050.4" y="68.8" textLength="27.4" lengthAdjust="spacingAndGlyphs">51006444</text>
<text x="1050.4" y="77.2" textLength="15.6" lengthAdjust="spacingAndGlyphs">10/06</text>
<text x="1050.4" y="86.1" textLength="33.6" lengthAdjust="spacingAndGlyphs">101006 00 2</text>
</g>
<g font-size="3.6" font-weight="700" fill="#0c0c0c" stroke="#0c0c0c" stroke-width="0.18">
<text x="828.8" y="114.4" textLength="10" lengthAdjust="spacingAndGlyphs">Item</text>
<text x="867.4" y="114.4">n</text>
<text x="881.3" y="114.4" textLength="19.7" lengthAdjust="spacingAndGlyphs">Order-No.</text>
<text x="909.2" y="114.4" textLength="23.7" lengthAdjust="spacingAndGlyphs">Description</text>
</g>
<g font-size="4.05" font-weight="700" fill="#0c0c0c" stroke="#0c0c0c" stroke-width="0.15">
<text x="866.2" y="129.80">1</text><text x="881.8" y="129.80" textLength="19.1" lengthAdjust="spacingAndGlyphs" fill="#1c1ce0" stroke="#1c1ce0">51006444</text><text x="909.8" y="129.80" fill="#1c1ce0" stroke="#1c1ce0">Hydr. Unit</text>
<text x="829.6" y="135.04">10</text><text x="866.2" y="135.04">1</text><text x="881.8" y="135.04" textLength="19.1" lengthAdjust="spacingAndGlyphs">51056564</text><text x="909.8" y="135.04">Connecting block, Hydr.</text>
<text x="829.6" y="140.29">10.2</text><text x="866.2" y="140.29">1</text><text x="881.8" y="140.29" textLength="19.1" lengthAdjust="spacingAndGlyphs">51046524</text><text x="909.8" y="140.29">Ring, Seal</text>
<text x="829.6" y="145.53">20</text><text x="866.2" y="145.53">1</text><text x="881.8" y="145.53" textLength="19.1" lengthAdjust="spacingAndGlyphs">51056565</text><text x="909.8" y="145.53">Pump, Hydraulic</text>
<text x="829.6" y="150.77">20.1</text><text x="866.2" y="150.77">1</text><text x="881.8" y="150.77" textLength="19.1" lengthAdjust="spacingAndGlyphs">51024412</text><text x="909.8" y="150.77">Seal, O-ring</text>
<text x="829.6" y="156.02">20.2</text><text x="866.2" y="156.02">1</text><text x="881.8" y="156.02" textLength="19.1" lengthAdjust="spacingAndGlyphs">51056568</text><text x="909.8" y="156.02">Seal, O-ring</text>
<text x="829.6" y="161.26">30</text><text x="866.2" y="161.26">1</text><text x="881.8" y="161.26" textLength="19.1" lengthAdjust="spacingAndGlyphs">51056570</text><text x="909.8" y="161.26">Pump motor</text>
<text x="829.6" y="166.50">30.1</text><text x="866.2" y="166.50">1</text><text x="881.8" y="166.50" textLength="19.1" lengthAdjust="spacingAndGlyphs">51057616</text><text x="909.8" y="166.50">Kit, Carbon brush</text>
<text x="829.6" y="171.74">30.2</text><text x="866.2" y="171.74">1</text><text x="881.8" y="171.74" textLength="19.1" lengthAdjust="spacingAndGlyphs">51057618</text><text x="909.8" y="171.74">Kit, Screw</text>
<text x="829.6" y="176.99">40</text><text x="866.2" y="176.99">1</text><text x="881.8" y="176.99" textLength="19.1" lengthAdjust="spacingAndGlyphs">51056569</text><text x="909.8" y="176.99">Clutch, Mech.</text>
<text x="829.6" y="182.23">50</text><text x="866.2" y="182.23">1</text><text x="881.8" y="182.23" textLength="19.1" lengthAdjust="spacingAndGlyphs">51057591</text><text x="909.8" y="182.23">Tank</text>
<text x="829.6" y="187.47">50.2</text><text x="866.2" y="187.47">1</text><text x="881.8" y="187.47" textLength="19.1" lengthAdjust="spacingAndGlyphs">51057593</text><text x="909.8" y="187.47">Filter, Feed and aeration</text>
<text x="829.6" y="192.72">60</text><text x="866.2" y="192.72">1</text><text x="881.8" y="192.72" textLength="19.1" lengthAdjust="spacingAndGlyphs">51056571</text><text x="909.8" y="192.72">Clamp</text>
<text x="829.6" y="197.96">70</text><text x="866.2" y="197.96">2</text><text x="881.8" y="197.96" textLength="19.1" lengthAdjust="spacingAndGlyphs">51056574</text><text x="909.8" y="197.96">Pipe</text>
<text x="829.6" y="203.20">80</text><text x="866.2" y="203.20">1</text><text x="881.8" y="203.20" textLength="19.1" lengthAdjust="spacingAndGlyphs">51056594</text><text x="909.8" y="203.20">Filter</text>
<text x="829.6" y="208.45">90</text><text x="866.2" y="208.45">1</text><text x="881.8" y="208.45" textLength="19.1" lengthAdjust="spacingAndGlyphs">51056593</text><text x="909.8" y="208.45">Pipe</text>
<text x="829.6" y="213.69">100</text><text x="866.2" y="213.69">2</text><text x="881.8" y="213.69" textLength="19.1" lengthAdjust="spacingAndGlyphs">51057502</text><text x="909.8" y="213.69">Washer</text>
<text x="829.6" y="218.93">110</text><text x="866.2" y="218.93">2</text><text x="881.8" y="218.93" textLength="19.1" lengthAdjust="spacingAndGlyphs">50453452</text><text x="909.8" y="218.93">Washer</text>
<text x="829.6" y="224.17">120</text><text x="866.2" y="224.17">2</text><text x="881.8" y="224.17" textLength="19.1" lengthAdjust="spacingAndGlyphs">51057546</text><text x="909.8" y="224.17">Screw</text>
<text x="829.6" y="229.42">130</text><text x="866.2" y="229.42">1</text><text x="881.8" y="229.42" textLength="19.1" lengthAdjust="spacingAndGlyphs">51057594</text><text x="909.8" y="229.42">Valve-Control</text>
<text x="829.6" y="234.66">140</text><text x="866.2" y="234.66">1</text><text x="881.8" y="234.66" textLength="19.1" lengthAdjust="spacingAndGlyphs">51024421</text><text x="909.8" y="234.66">Magnet coil</text>
<text x="829.6" y="239.90">150</text><text x="866.2" y="239.90">1</text><text x="881.8" y="239.90" textLength="19.1" lengthAdjust="spacingAndGlyphs">51057571</text><text x="909.8" y="239.90">Valve, Flow Regulating</text>
</g>
<path d="M820 506.2 H930" stroke="#000" stroke-width="1" fill="none"/>
<text x="825.7" y="512.6" font-size="2.9" font-weight="700" fill="#111" textLength="57.3" lengthAdjust="spacingAndGlyphs">Subject to change without notice</text>
<g transform="translate(369 0)">
<text x="678.6" y="511.8" font-size="9.5" font-weight="700" font-style="italic" fill="#0c0c0c" textLength="67" lengthAdjust="spacingAndGlyphs" stroke="#0c0c0c" stroke-width="0.55">UNGHEINRICH</text>
<path d="M672.9 509.2 H677.6 L677 511.9 H672.3 Z" fill="#0c0c0c"/>
<path d="M675.9 500.9 L679 504.9 H677.4 L676.5 509.3 H673.7 L674.6 504.9 H672.3 Z" fill="#e2001a"/>
</g>
</svg>
</div></body></html>
